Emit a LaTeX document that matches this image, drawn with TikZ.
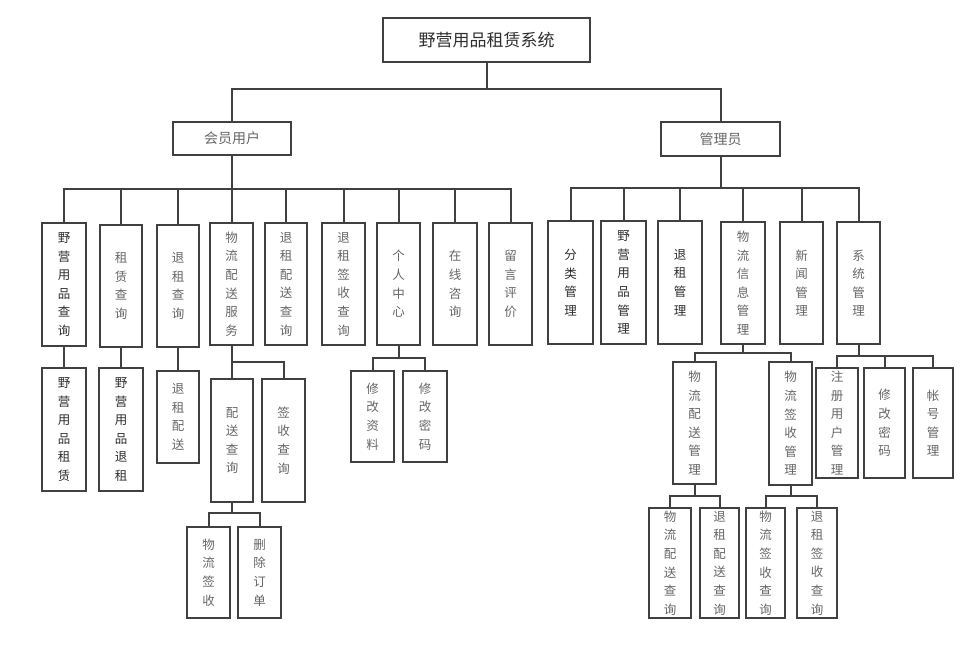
\documentclass[tikz,border=0pt]{standalone}
\usepackage{fontspec}
\newfontfamily\cjk{Noto Sans CJK SC}
\definecolor{linec}{HTML}{404040}
\definecolor{txtk}{HTML}{2E2E2E}
\definecolor{txtg}{HTML}{666666}
\tikzset{
  box/.style={draw=linec, line width=1.9pt, fill=white, inner sep=0pt, align=center,
    font=\cjk\fontsize{12.5}{18.6}\selectfont, text=txtg},
  dark/.style={text=txtk, line width=1.5pt},
  conn/.style={draw=linec, line width=2pt}
}
\newcommand\mybox[7][]{\node[box,minimum width={(#5-#3)*1pt},minimum height={(#6-#4)*1pt},#1] (#2) at ({(#3+#5)/2},{(#4+#6)/2}) {#7};}
\newcommand\mytree[3]{\draw[conn] (#1.south) -- (#1.south |- 0,#2);
  \foreach \c in {#3}{\draw[conn] (\c.north) |- (#1.south |- 0,#2);}}
\begin{document}
\begin{tikzpicture}[x=1pt,y=-1pt]
\fill[white] (0,0) rectangle (968,658);
\useasboundingbox (0,0) rectangle (968,658);
% connectors first (boxes drawn over them)
\coordinate (dummy) at (0,0);
% top
\mybox[dark,font=\cjk\fontsize{17}{20}\selectfont]{T}{383}{18}{590}{62}{野营用品租赁系统}
\mybox[font=\cjk\fontsize{14}{16}\selectfont]{U}{173}{122}{291}{155}{会员用户}
\mybox[font=\cjk\fontsize{14}{16}\selectfont]{A}{661}{122}{780}{156}{管理员}
% left row 1
\mybox[dark]{L1}{42}{223}{86}{346}{野\\营\\用\\品\\查\\询}
\mybox{L2}{100}{225}{142}{347}{租\\赁\\查\\询}
\mybox{L3}{157}{225}{199}{347}{退\\租\\查\\询}
\mybox{L4}{210}{223}{253}{345}{物\\流\\配\\送\\服\\务}
\mybox{L5}{265}{223}{307}{345}{退\\租\\配\\送\\查\\询}
\mybox{L6}{322}{223}{365}{345}{退\\租\\签\\收\\查\\询}
\mybox{L7}{377}{223}{420}{345}{个\\人\\中\\心}
\mybox{L8}{433}{223}{477}{345}{在\\线\\咨\\询}
\mybox{L9}{489}{223}{532}{345}{留\\言\\评\\价}
% left row 2
\mybox[dark]{L1a}{42}{368}{86}{491}{野\\营\\用\\品\\租\\赁}
\mybox[dark]{L2a}{99}{368}{143}{491}{野\\营\\用\\品\\退\\租}
\mybox{L3a}{157}{371}{199}{463}{退\\租\\配\\送}
\mybox{L4a}{211}{379}{253}{502}{配\\送\\查\\询}
\mybox{L4b}{262}{379}{305}{502}{签\\收\\查\\询}
\mybox{L7a}{351}{371}{394}{462}{修\\改\\资\\料}
\mybox{L7b}{403}{371}{447}{462}{修\\改\\密\\码}
% left row 3
\mybox{L4aa}{187}{527}{230}{618}{物\\流\\签\\收}
\mybox{L4ab}{238}{527}{281}{618}{删\\除\\订\\单}
% right row 1
\mybox[dark]{R1}{548}{221}{593}{344}{分\\类\\管\\理}
\mybox[dark]{R2}{601}{221}{646}{344}{野\\营\\用\\品\\管\\理}
\mybox[dark]{R3}{658}{221}{702}{344}{退\\租\\管\\理}
\mybox{R4}{721}{222}{765}{344}{物\\流\\信\\息\\管\\理}
\mybox{R5}{780}{222}{823}{344}{新\\闻\\管\\理}
\mybox{R6}{837}{222}{880}{344}{系\\统\\管\\理}
% right row 2
\mybox{R4a}{673}{362}{716}{484}{物\\流\\配\\送\\管\\理}
\mybox{R4b}{769}{362}{812}{485}{物\\流\\签\\收\\管\\理}
\mybox{R6a}{816}{368}{858}{478}{注\\册\\用\\户\\管\\理}
\mybox{R6b}{864}{368}{905}{478}{修\\改\\密\\码}
\mybox{R6c}{913}{368}{953}{478}{帐\\号\\管\\理}
% right row 3
\mybox{R4aa}{649}{508}{691}{618}{物\\流\\配\\送\\查\\询}
\mybox{R4ab}{700}{508}{739}{618}{退\\租\\配\\送\\查\\询}
\mybox{R4ba}{746}{508}{785}{618}{物\\流\\签\\收\\查\\询}
\mybox{R4bb}{797}{508}{837}{618}{退\\租\\签\\收\\查\\询}
% connectors
\mytree{T}{89}{U,A}
\mytree{U}{189}{L1,L2,L3,L4,L5,L6,L7,L8,L9}
\mytree{A}{188}{R1,R2,R3,R4,R5,R6}
\draw[conn] (L1.south) -- (L1a.north);
\draw[conn] (L2.south) -- (L2a.north);
\draw[conn] (L3.south) -- (L3a.north);
\mytree{L4}{362}{L4a,L4b}
\mytree{L7}{358}{L7a,L7b}
\mytree{L4a}{513}{L4aa,L4ab}
\mytree{R4}{353}{R4a,R4b}
\mytree{R6}{356}{R6a,R6b,R6c}
\mytree{R4a}{496}{R4aa,R4ab}
\mytree{R4b}{496}{R4ba,R4bb}
\end{tikzpicture}
\end{document}
